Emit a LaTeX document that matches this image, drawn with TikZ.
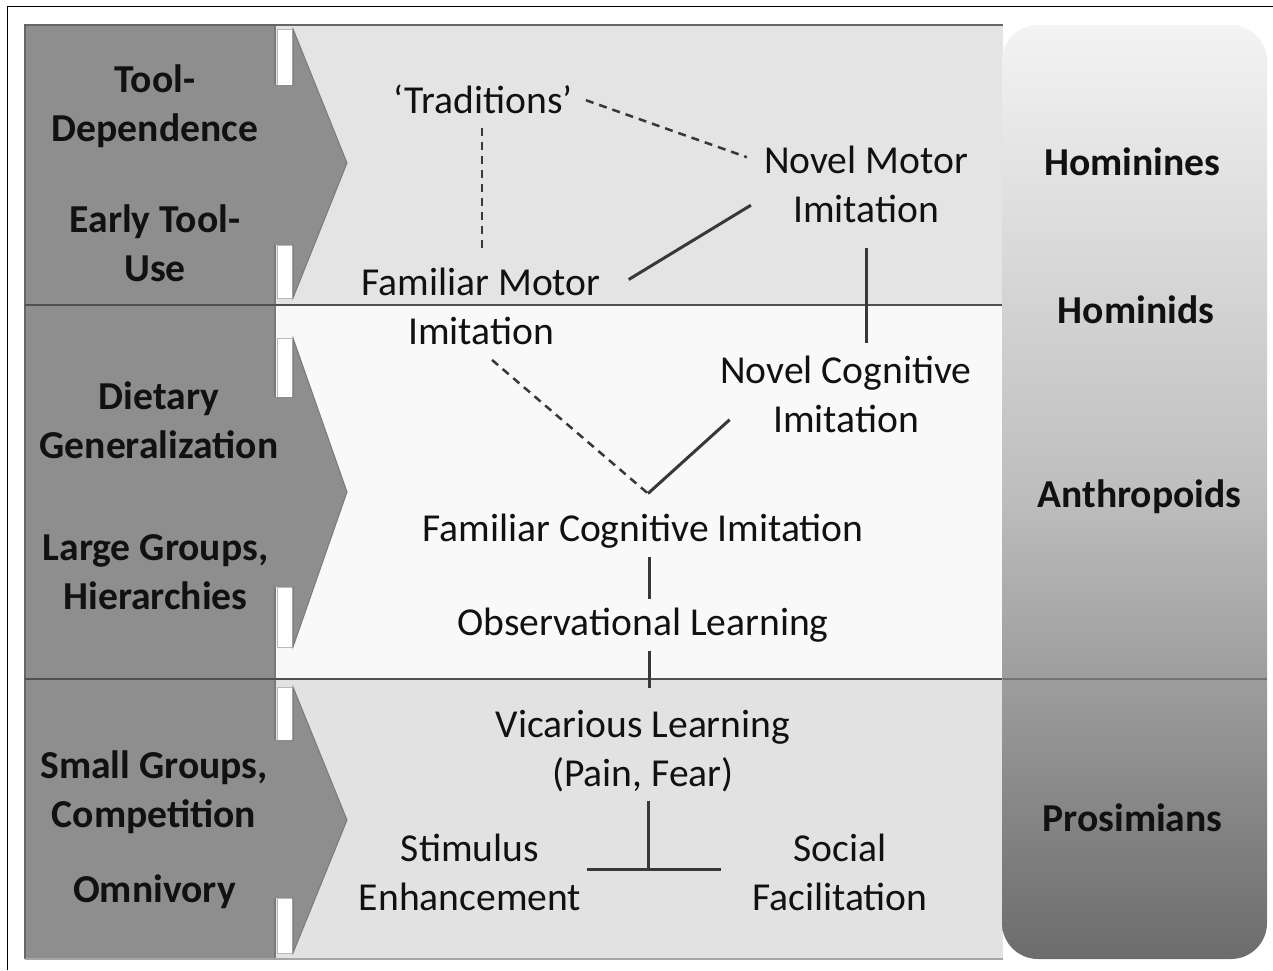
\documentclass[tikz,border=0pt]{standalone}
\usepackage{fontspec}
\setmainfont{Carlito}
\usetikzlibrary{calc}
\definecolor{colL}{HTML}{8E8E8E}
\definecolor{colLine}{HTML}{7A7A7A}
\definecolor{rowA}{HTML}{E4E4E4}
\definecolor{rowB}{HTML}{F9F9F9}
\definecolor{rowC}{HTML}{E2E2E2}
\definecolor{sepC}{HTML}{505050}
\definecolor{conC}{HTML}{383838}
\definecolor{txtC}{HTML}{111111}
\definecolor{rcTop}{HTML}{F3F3F3}
\definecolor{rcMid}{HTML}{BEBEBE}
\definecolor{rcBot}{HTML}{6C6C6C}
\newcommand\fsz{\fontsize{39.6}{49}\selectfont}
\begin{document}
\begin{tikzpicture}[x=1pt,y=-1pt,
  txt/.style={font=\fsz, align=center, inner sep=0pt, text=txtC},
  btxt/.style={font=\fsz\bfseries, align=center, inner sep=0pt, text=txtC},
  sepline/.style={draw=sepC, line width=2.6pt},
  con/.style={draw=conC, line width=3pt},
  dsh/.style={draw=conC, line width=2.5pt, dash pattern=on 8pt off 6pt},
  notchbox/.style={fill=white, draw=gray!55, line width=0.8pt},
  chevshape/.style={fill=colL, draw=colLine, line width=1pt}
]
\useasboundingbox (0,0) rectangle (1273,970);
\fill[white] (0,0) rectangle (1273,970);
% outer frame
\draw[black, line width=1.8pt] (7.5,970) -- (7.5,6.5) -- (1273,6.5);
% row backgrounds
\fill[rowA] (275,25) rectangle (1003,305);
\fill[rowB] (275,305) rectangle (1003,679);
\fill[rowC] (275,679) rectangle (1003,959);
% left column
\fill[colL] (25,25) rectangle (275,959);
\draw[colLine, line width=1.2pt] (275,25) -- (275,959);
\draw[gray!80!black, line width=1.2pt] (25,959) -- (25,25) -- (1003,25);
\draw[gray!70, line width=1.5pt] (25,959) -- (1003,959);
% chevrons
\foreach \ya/\yb/\yc/\yd/\ye in {29/85/163/245/298, 338/397/492/587/647, 687/740/820/898/953}{
  \filldraw[notchbox] (277,\ya) rectangle (292,\yb);
  \filldraw[notchbox] (277,\yd) rectangle (292,\ye);
  \fill[colL] (274,\yb) rectangle (293.5,\yd);
  \draw[chevshape] (292,\yb) -- (293,\yb) -- (293,\ya) -- (347,\yc) -- (293,\ye) -- (293,\yd) -- (292,\yd);
}
% separators
\draw[sepline] (25,305) -- (1003,305);
\draw[sepline] (25,679) -- (1003,679);
% right column
\shade[rounded corners=36pt, top color=rcTop, bottom color=rcBot, middle color=rcMid] (1002,25) rectangle (1267,959);
\draw[black!55, line width=1.6pt] (1003,679) -- (1267,679);

% left labels
\node[btxt] (tool) at (155,106.7) {\strut Tool-\\\strut Dependence};
\node[btxt] (early) at (155,247.2) {\strut Early Tool-\\\strut Use};
\node[btxt] (diet) at (159,423.7) {\strut Dietary\\\strut Generalization};
\node[btxt] (large) at (155.5,574.7) {\strut Large Groups,\\\strut Hierarchies};
\node[btxt] (small) at (154,793.2) {\strut Small Groups,\\\strut Competition};
\node[btxt] (omni) at (154.5,892.2) {\strut Omnivory};

% right labels
\node[btxt] (hominines) at (1132.5,165.2) {\strut Hominines};
\node[btxt] (hominids) at (1136,313.2) {\strut Hominids};
\node[btxt] (anthro) at (1139.5,497.2) {\strut Anthropoids};
\node[btxt] (prosim) at (1132.5,821.2) {\strut Prosimians};

% middle labels
\node[txt] (trad) at (483,103.2) {\strut `Traditions'};
\node[txt] (nm) at (866,188.2) {\strut Novel Motor\\\strut Imitation};
\node[txt] (fm) at (481,309.7) {\strut Familiar Motor\\\strut Imitation};
\node[txt] (nc) at (846,398.2) {\strut Novel Cognitive\\\strut Imitation};
\node[txt] (fci) at (643,531.2) {\strut Familiar Cognitive Imitation};
\node[txt] (ol) at (643,625.2) {\strut Observational Learning};
\node[txt] (vic) at (643,751.7) {\strut Vicarious Learning\\\strut (Pain, Fear)};
\node[txt] (stim) at (470,876.2) {\strut Stimulus\\\strut Enhancement};
\node[txt] (soc) at (840,876.2) {\strut Social\\\strut Facilitation};

% junction points
\coordinate (vtx) at ($(fci.north)+(5,-13)$);
\coordinate (tee) at ($(vic.south)+(5,68)$);

% connectors
\draw[dsh] ($(trad.east)+(13,-3)$) -- ($(nm.west)+(-17,-31)$);
\draw[dsh] ($(trad.south)+(-1,0)$) -- ($(fm.north)+(1,-10)$);
\draw[con] ($(fm.north east)+(28,19)$) -- ($(nm.west)+(-13,17)$);
\draw[con] ($(nm.south)+(0,11)$) -- ($(nc.north -| nm.south)+(0,-6)$);
\draw[dsh] ($(fm.south)+(11,1)$) -- (vtx);
\draw[con] (vtx) -- ($(nc.south west)+(9.5,-27.7)$);
\draw[con] ($(fci.south)+(6,1)$) -- ($(ol.north)+(6,-2)$);
\draw[con] ($(ol.south)+(6,1)$) -- ($(vic.north)+(6,-15)$);
\draw[con] ($(vic.south)+(5,0)$) -- (tee);
\draw[con] ($(stim.east)+(6,-7)$) -- ($(soc.west)+(-31,-7)$);
\end{tikzpicture}
\end{document}
